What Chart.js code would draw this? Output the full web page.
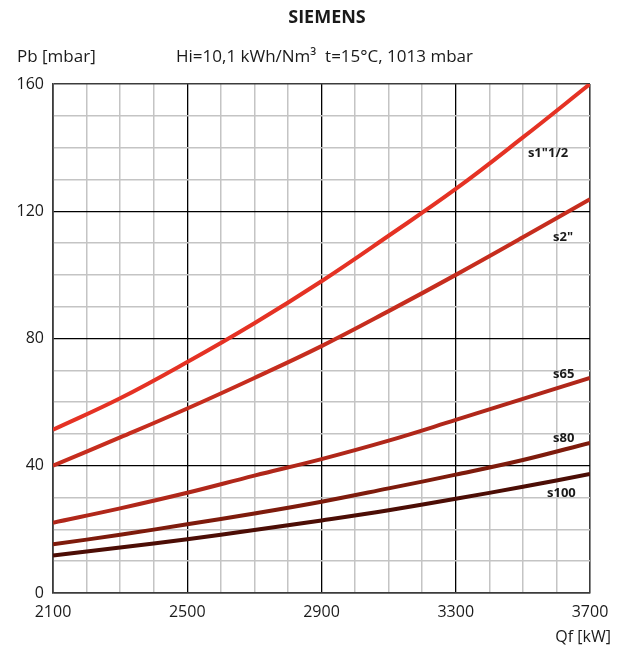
<!DOCTYPE html>
<html>
<head>
<meta charset="utf-8">
<script src="https://cdn.jsdelivr.net/npm/chart.js@4"></script>
<style>
  html, body { margin: 0; padding: 0; background: #fff; }
  #wrap { width: 628px; height: 651px; position: relative; }
</style>
</head>
<body>
<div id="wrap"><canvas id="chart"></canvas></div>
<script>
// Flow rate Qf [kW]
const flow = [2100, 2300, 2500, 2700, 2900, 3100, 3300, 3500, 3700];

// Pressure drop Pb [mbar] for each valve size
const s1_1_2 = [51.3, 61.2, 72.6, 84.8, 98.0, 112.3, 127.0, 143.2, 160.0];
const s2     = [40.0, 48.9, 58.0, 67.6, 77.6, 88.6, 100.0, 111.8, 123.8];
const s65    = [22.1, 26.6, 31.5, 36.9, 42.1, 47.9, 54.4, 61.0, 67.6];
const s80    = [15.3, 18.3, 21.6, 25.0, 28.7, 32.9, 37.2, 41.8, 47.2];
const s100   = [11.8, 14.3, 16.9, 19.8, 22.8, 26.0, 29.6, 33.4, 37.4];

const seriesNames = ['s1"1/2', 's2"', 's65', 's80', 's100'];
const seriesData = [s1_1_2, s2, s65, s80, s100];
const seriesColors = ['#e53224', '#c62d1e', '#b0271a', '#7e1b0c', '#4c0d05'];

const xTickLabels = [2100, 2500, 2900, 3300, 3700];
const yTickLabels = [0, 40, 80, 120, 160];

const FONT = '"Open Sans", Lato, sans-serif';

// Where each curve's name sits (data coordinates of the text's left/middle)
const labelAnchors = [[3515, 138.3], [3590, 111.9], [3590, 68.8], [3590, 48.7], [3572, 31.4]];

const textPlugin = {
    id: 'texts',
    afterDraw(chart) {
        const ctx = chart.ctx;
        const xs = chart.scales.x, ys = chart.scales.y;
        ctx.save();
        ctx.fillStyle = '#1a1a1a';
        ctx.textBaseline = 'middle';

        ctx.font = 'bold 18px ' + FONT;
        ctx.textAlign = 'center';
        ctx.fillText('SIEMENS', 327, 18);

        ctx.font = '17px ' + FONT;
        ctx.textAlign = 'left';
        ctx.fillText('Pb [mbar]', 17, 57);
        ctx.fillText('Hi=10,1 kWh/Nm³  t=15°C, 1013 mbar', 176, 57);

        ctx.font = '16px ' + FONT;
        ctx.textAlign = 'right';
        ctx.fillText('Qf [kW]', 611, 637);

        ctx.font = 'bold 13px ' + FONT;
        ctx.textAlign = 'left';
        seriesNames.forEach((name, i) => {
            const [ax, ay] = labelAnchors[i];
            ctx.fillText(name, xs.getPixelForValue(ax), ys.getPixelForValue(ay));
        });
        ctx.restore();
    }
};

function gridStyle(isMajor, isEdge) {
    if (isEdge) return { color: '#3c3c3c', width: 1.6 };
    if (isMajor) return { color: '#000000', width: 1.3 };
    return { color: '#c4c4c4', width: 1.5 };
}

new Chart(document.getElementById('chart'), {
    type: 'line',
    data: {
        datasets: seriesData.map((values, i) => ({
            label: seriesNames[i],
            data: flow.map((q, j) => ({ x: q, y: values[j] })),
            borderColor: seriesColors[i],
            borderWidth: 4,
            pointRadius: 0,
            fill: false,
            tension: 0.4
        }))
    },
    options: {
        responsive: true,
        maintainAspectRatio: false,
        animation: false,
        layout: { padding: { left: 0, right: 38, top: 84, bottom: 0 } },
        plugins: {
            legend: { display: false },
            tooltip: { enabled: false }
        },
        scales: {
            x: {
                type: 'linear',
                min: 2100,
                max: 3700,
                afterBuildTicks: scale => {
                    scale.ticks = [];
                    for (let v = 2100; v <= 3700; v += 100) scale.ticks.push({ value: v });
                },
                afterFit: scale => { scale.height = 58; },
                border: { display: true, color: '#3c3c3c', width: 1.6 },
                grid: {
                    drawTicks: false,
                    color: c => gridStyle(xTickLabels.includes(c.tick.value), c.tick.value === 2100 || c.tick.value === 3700).color,
                    lineWidth: c => gridStyle(xTickLabels.includes(c.tick.value), c.tick.value === 2100 || c.tick.value === 3700).width
                },
                ticks: {
                    autoSkip: false,
                    maxRotation: 0,
                    padding: 10,
                    color: '#1a1a1a',
                    font: { family: FONT, size: 16 },
                    callback: v => xTickLabels.includes(v) ? String(v) : ''
                }
            },
            y: {
                type: 'linear',
                min: 0,
                max: 160,
                afterBuildTicks: scale => {
                    scale.ticks = [];
                    for (let v = 0; v <= 160; v += 10) scale.ticks.push({ value: v });
                },
                afterFit: scale => { scale.width = 53; },
                border: { display: true, color: '#3c3c3c', width: 1.6 },
                grid: {
                    drawTicks: false,
                    color: c => gridStyle(yTickLabels.includes(c.tick.value), c.tick.value === 0 || c.tick.value === 160).color,
                    lineWidth: c => gridStyle(yTickLabels.includes(c.tick.value), c.tick.value === 0 || c.tick.value === 160).width
                },
                ticks: {
                    autoSkip: false,
                    padding: 9,
                    color: '#1a1a1a',
                    font: { family: FONT, size: 16 },
                    callback: v => yTickLabels.includes(v) ? String(v) : ''
                }
            }
        }
    },
    plugins: [textPlugin]
});
</script>
</body>
</html>
